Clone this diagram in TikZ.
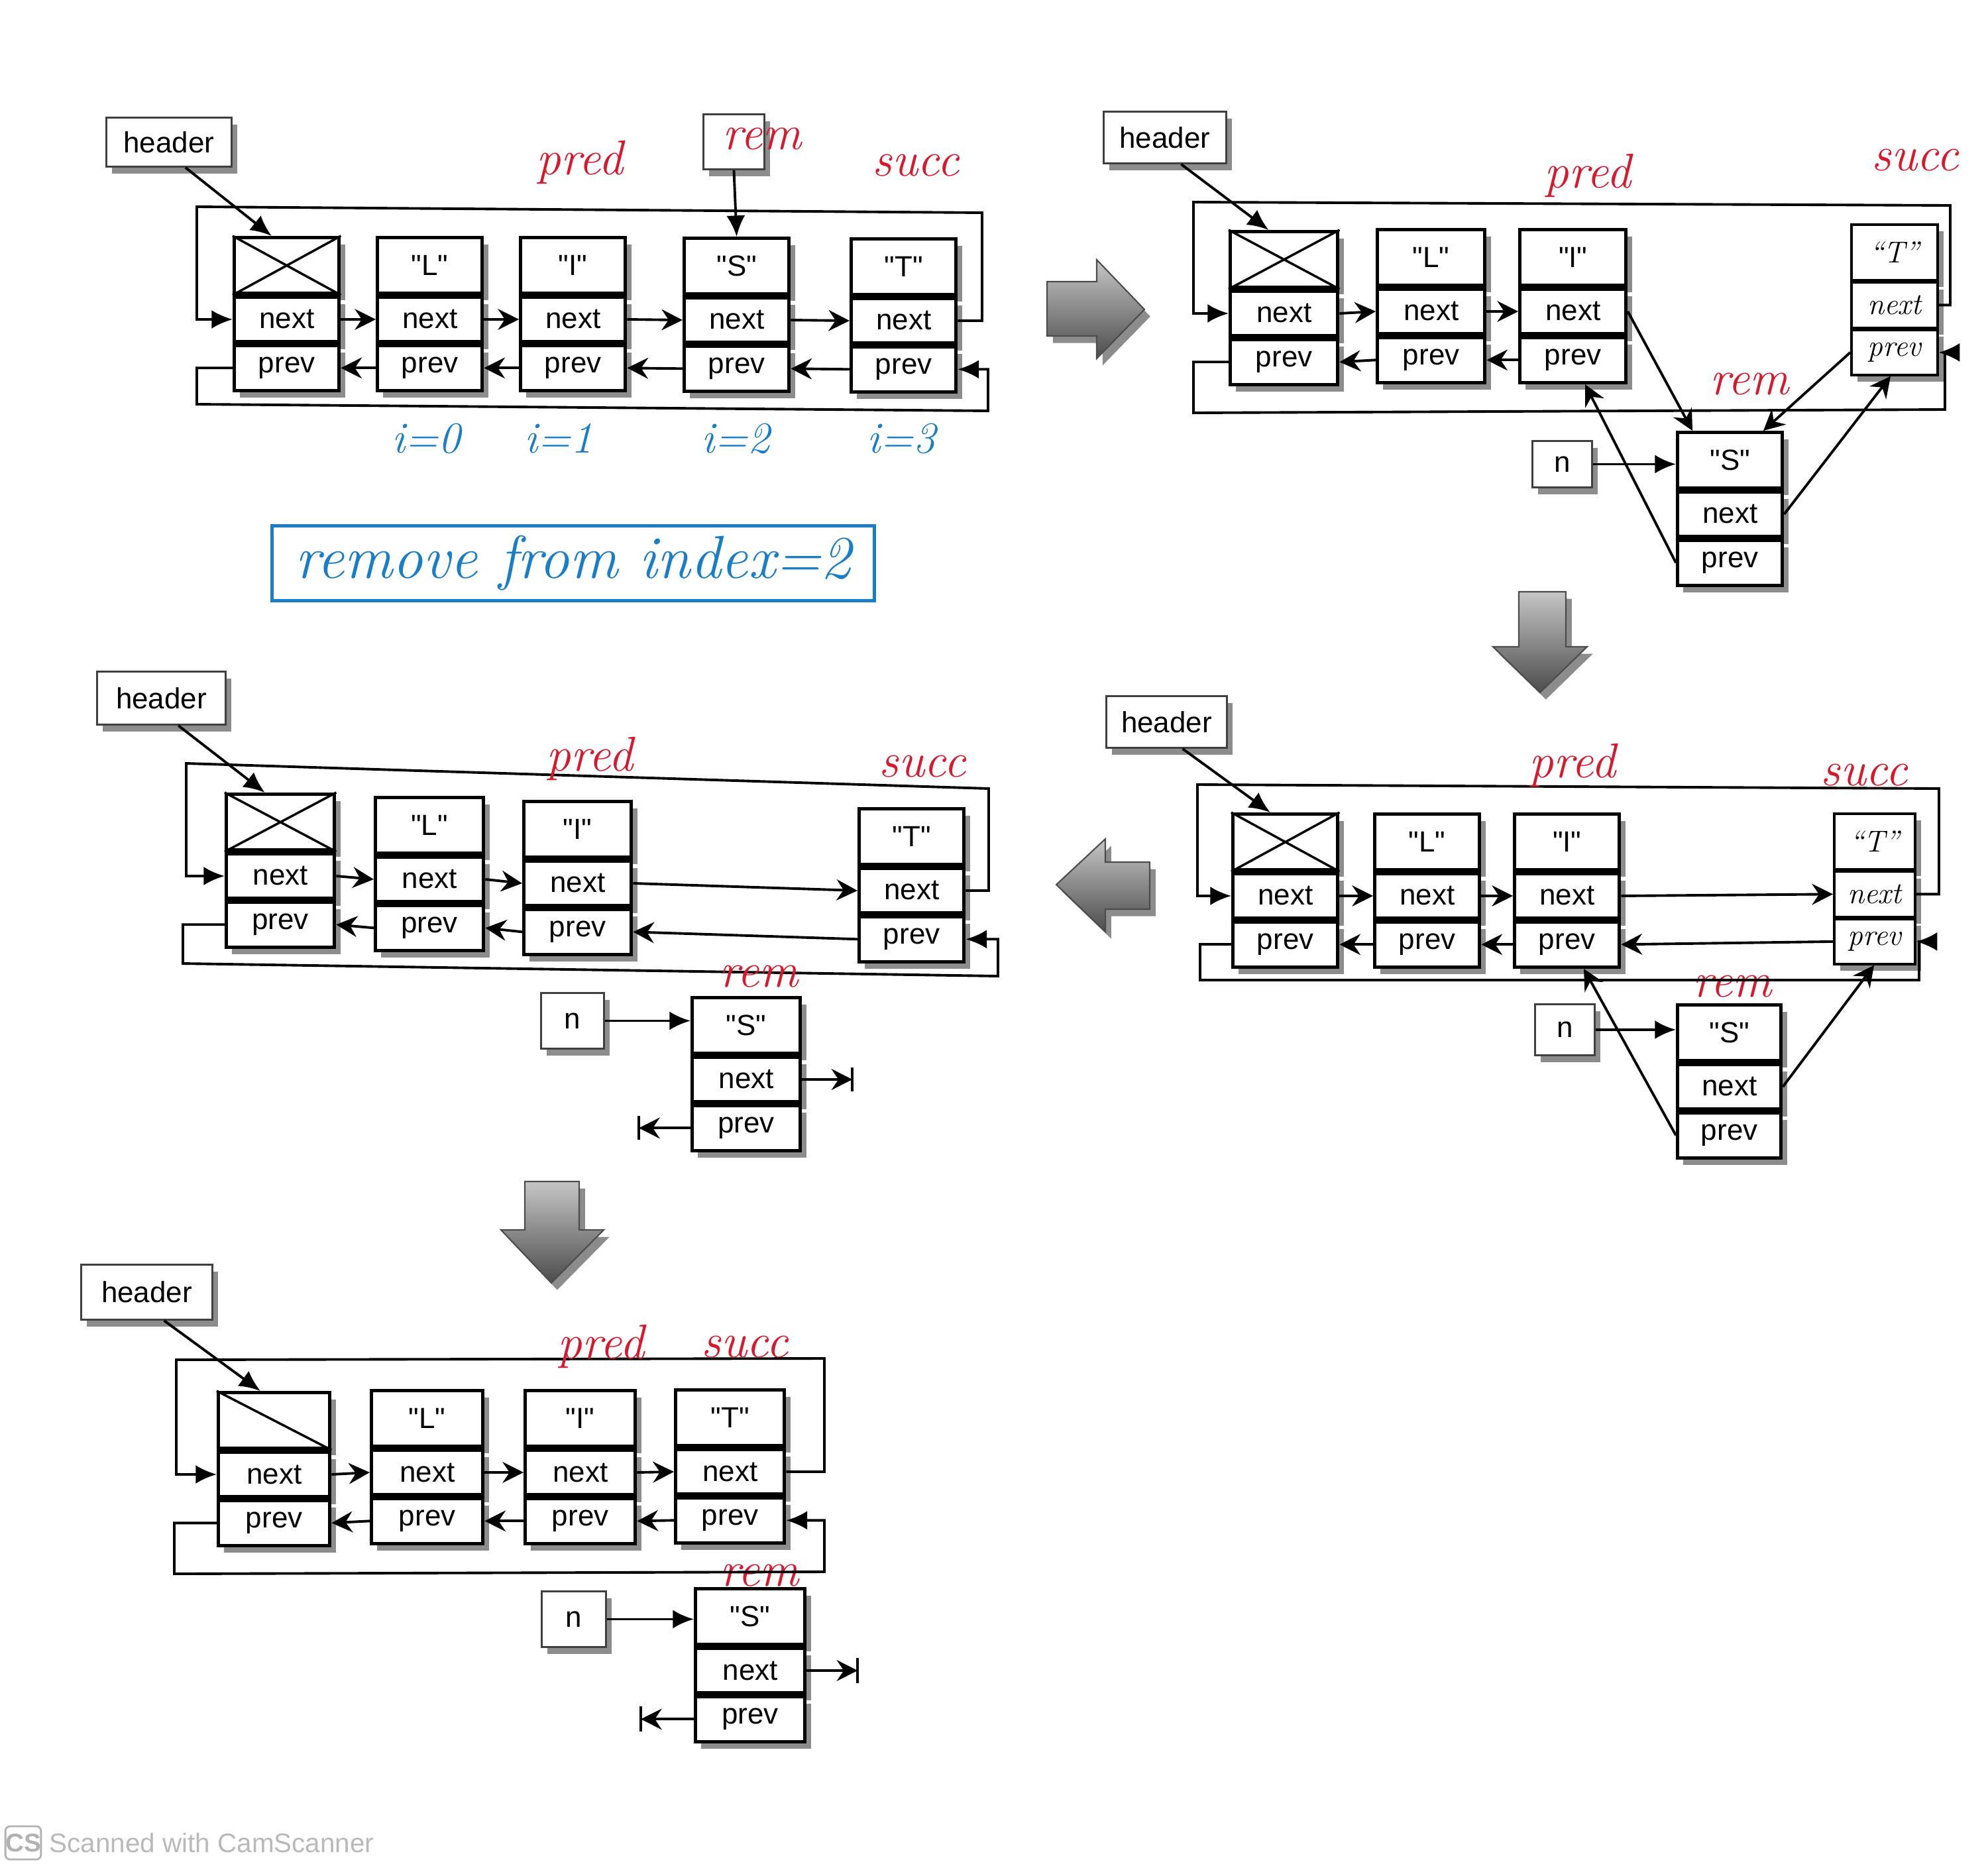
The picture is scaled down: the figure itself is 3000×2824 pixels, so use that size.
\documentclass[tikz,border=0pt]{standalone}
\usepackage{fontspec}
\setsansfont{Liberation Sans}[Ligatures=TeXOff]
\usetikzlibrary{arrows.meta,calc,shadows}
\definecolor{penred}{RGB}{215,25,45}
\definecolor{penblue}{RGB}{25,125,200}
\newcommand\cellfont{\sffamily\fontsize{12.5}{14}\selectfont}
\newcommand\handfont{\rmfamily\itshape\fontsize{13}{15}\selectfont}
\newcommand\redfont{\rmfamily\itshape\fontsize{21}{24}\selectfont}
\newcommand\bluefont{\rmfamily\itshape\fontsize{19}{22}\selectfont}
\tikzset{
 shad/.style={drop shadow={shadow xshift=2.5pt, shadow yshift=-3pt, fill=black, opacity=.45}},
 celltop/.style={draw, line width=1.5pt, fill=white, inner sep=0pt, minimum height=0.84cm, font=\cellfont, shad},
 cellrow/.style={celltop, minimum height=0.68cm},
 hcelltop/.style={celltop, line width=1pt, font=\handfont},
 hcellrow/.style={hcelltop, minimum height=0.68cm},
 tagbox/.style={draw=black!75, line width=0.8pt, fill=white, inner sep=0pt, font=\cellfont, shad, anchor=north west},
 ptr/.style={line width=1.1pt, -{Stealth[length=9pt,width=9pt,inset=3pt]}},
 fptr/.style={line width=1.1pt, -{Latex[length=9pt,width=8pt]}},
 wire/.style={line width=1.1pt},
 redlab/.style={text=penred, font=\redfont, inner sep=0pt},
 bluelab/.style={text=penblue, font=\bluefont, inner sep=0pt},
 bigarrow/.style={draw=black!70, line width=0.6pt, top color=gray!45, bottom color=black!70, shad},
}
\newcommand\lnode[5]{%
 \node[celltop, minimum width=#4, anchor=north west] (#1t) at (#2,#3) {#5};
 \node[cellrow, minimum width=#4, anchor=north] (#1n) at (#1t.south) {next};
 \node[cellrow, minimum width=#4, anchor=north] (#1p) at (#1n.south) {prev};}
\newcommand\hnode[5]{%
 \node[hcelltop, minimum width=#4, anchor=north west] (#1t) at (#2,#3) {#5};
 \node[hcellrow, minimum width=#4, anchor=north] (#1n) at (#1t.south) {next};
 \node[hcellrow, minimum width=#4, anchor=north] (#1p) at (#1n.south) {prev};}
\newcommand\xcell[1]{\draw[line width=1pt] (#1t.north west) -- (#1t.south east) (#1t.north east) -- (#1t.south west);}
\begin{document}
\begin{tikzpicture}[x=0.01cm,y=-0.01cm]
\useasboundingbox (0,0) rectangle (3000,2824);

% ---------------- panel 1 ----------------
\node[tagbox, minimum width=1.89cm, minimum height=0.74cm] (h1) at (159,176) {header};
\node[tagbox, minimum width=0.92cm, minimum height=0.83cm] (r1) at (1060,171) {};
\lnode{p1a}{351}{356}{1.58cm}{}
\lnode{p1b}{567}{356}{1.58cm}{"L"}
\lnode{p1c}{783}{356}{1.58cm}{"I"}
\lnode{p1d}{1030}{357}{1.58cm}{"S"}
\lnode{p1e}{1282}{358}{1.58cm}{"T"}
\xcell{p1a}
\draw[fptr] ($(h1.south west)!0.63!(h1.south east)$) -- ($(p1at.north west)!0.36!(p1at.north east)$);
\draw[fptr] (r1.south) -- (p1dt.north);
\foreach \A/\B in {a/b,b/c,c/d,d/e}{
 \draw[ptr] (p1\A n.east) -- (p1\B n.west);
 \draw[ptr] (p1\B p.west) -- (p1\A p.east);}
\coordinate (p1TL) at (297,312); \coordinate (p1TR) at (1482,321);
\coordinate (p1BL) at (297,610); \coordinate (p1BR) at (1491,620);
\draw[fptr] (p1en.east) -| (p1TR) -- (p1TL) |- (p1an.west);
\draw[fptr] (p1ap.west) -| (p1BL) -- (p1BR) |- (p1ep.east);
\node[redlab] (pr1) at (875,245) {pred};
\node[redlab] (su1) at (1382,250) {succ};
\node[redlab] (rm1) at (1150,210) {rem};
\node[bluelab] (i10) at (643,662) {i=0};
\node[bluelab] (i11) at (843,662) {i=1};
\node[bluelab] (i12) at (1110,662) {i=2};
\node[bluelab] (i13) at (1360,662) {i=3};
\node[draw=penblue, line width=1.3pt, minimum width=9.09cm, minimum height=1.13cm, text=penblue, font=\rmfamily\itshape\fontsize{26}{30}\selectfont] (task) at (865,850) {remove from index=2};
\path[bigarrow] (1580,425) -- (1655,425) -- (1655,392) -- (1727,467) -- (1655,541) -- (1655,507) -- (1580,507) -- cycle;

% ---------------- panel 2 ----------------
\node[tagbox, minimum width=1.85cm, minimum height=0.78cm] (h2) at (1664,167) {header};
\lnode{p2a}{1854}{347}{1.62cm}{}
\lnode{p2b}{2076}{344}{1.62cm}{"L"}
\lnode{p2c}{2291}{344}{1.60cm}{"I"}
\hnode{p2e}{2792}{337}{1.30cm}{``T''}
\node[redlab] (rm2) at (2640,580) {rem};
\lnode{p2d}{2529}{650}{1.58cm}{"S"}
\node[tagbox, minimum width=0.9cm, minimum height=0.7cm] (n2) at (2311,664) {n};
\xcell{p2a}
\draw[fptr] ($(h2.south west)!0.63!(h2.south east)$) -- ($(p2at.north west)!0.36!(p2at.north east)$);
\foreach \A/\B in {a/b,b/c}{
 \draw[ptr] (p2\A n.east) -- (p2\B n.west);
 \draw[ptr] (p2\B p.west) -- (p2\A p.east);}
\draw[fptr] (n2.east) -- (n2.east -| p2dt.west);
\draw[ptr] (p2cn.east) -- ($(p2dt.north west)+(25,0)$);
\draw[ptr] (p2ep.west) -- ($(p2dt.north west)+(132,0)$);
\draw[ptr] (p2dp.west) -- ($(p2cp.south west)+(101,0)$);
\draw[ptr] (p2dn.east) -- ($(p2ep.south west)+(61,0)$);
\coordinate (p2TL) at (1801,305); \coordinate (p2TR) at (2943,310);
\coordinate (p2BL) at (1801,623); \coordinate (p2BR) at (2935,618);
\draw[fptr] (p2en.east) -| (p2TR) -- (p2TL) |- (p2an.west);
\draw[fptr] (p2ap.west) -| (p2BL) -- (p2BR) |- (p2ep.east);
\node[redlab] (pr2) at (2396,265) {pred};
\node[redlab] (su2) at (2890,242) {succ};
\path[bigarrow] (2292,893) -- (2363,893) -- (2363,976) -- (2395,976) -- (2324,1045) -- (2253,976) -- (2292,976) -- cycle;

% ---------------- panel 4 (middle right) ----------------
\node[tagbox, minimum width=1.82cm, minimum height=0.78cm] (h4) at (1668,1049) {header};
\lnode{p4a}{1858}{1226}{1.58cm}{}
\lnode{p4b}{2072}{1226}{1.58cm}{"L"}
\lnode{p4c}{2283}{1226}{1.58cm}{"I"}
\hnode{p4e}{2766}{1226}{1.22cm}{``T''}
\node[redlab] (rm4) at (2614,1489) {rem};
\lnode{p4d}{2529}{1514}{1.56cm}{"S"}
\node[tagbox, minimum width=0.9cm, minimum height=0.77cm] (n4) at (2315,1514) {n};
\xcell{p4a}
\draw[fptr] ($(h4.south west)!0.63!(h4.south east)$) -- ($(p4at.north west)!0.36!(p4at.north east)$);
\foreach \A/\B in {a/b,b/c,c/e}{
 \draw[ptr] (p4\A n.east) -- (p4\B n.west);
 \draw[ptr] (p4\B p.west) -- (p4\A p.east);}
\draw[fptr] (n4.east) -- (n4.east -| p4dt.west);
\draw[ptr] (p4dp.west) -- ($(p4cp.south west)+(107,0)$);
\draw[ptr] (p4dn.east) -- ($(p4ep.south west)+(62,0)$);
\coordinate (p4TL) at (1807,1184); \coordinate (p4TR) at (2926,1190);
\coordinate (p4BL) at (1811,1479); \coordinate (p4BR) at (2896,1479);
\draw[fptr] (p4en.east) -| (p4TR) -- (p4TL) |- (p4an.west);
\draw[fptr] (p4ap.west) -| (p4BL) -- (p4BR) |- (p4ep.east);
\node[redlab] (pr4) at (2373,1155) {pred};
\node[redlab] (su4) at (2813,1170) {succ};
\path[bigarrow] (1735,1301) -- (1668,1301) -- (1668,1266) -- (1594,1335) -- (1668,1406) -- (1668,1372) -- (1735,1372) -- cycle;

% ---------------- panel 3 (middle left) ----------------
\node[tagbox, minimum width=1.94cm, minimum height=0.80cm] (h3) at (145,1012) {header};
\lnode{p3a}{339}{1196}{1.63cm}{}
\lnode{p3b}{564}{1201}{1.63cm}{"L"}
\lnode{p3c}{788}{1207}{1.62cm}{"I"}
\lnode{p3e}{1294}{1218}{1.58cm}{"T"}
\lnode{p3d}{1042}{1503}{1.63cm}{"S"}
\node[tagbox, minimum width=0.95cm, minimum height=0.84cm] (n3) at (815,1497) {n};
\xcell{p3a}
\draw[fptr] ($(h3.south west)!0.63!(h3.south east)$) -- ($(p3at.north west)!0.36!(p3at.north east)$);
\foreach \A/\B in {a/b,b/c,c/e}{
 \draw[ptr] (p3\A n.east) -- (p3\B n.west);
 \draw[ptr] (p3\B p.west) -- (p3\A p.east);}
\draw[fptr] (n3.east) -- (n3.east -| p3dt.west);
\coordinate (p3TL) at (281,1152); \coordinate (p3TR) at (1492,1190);
\coordinate (p3BL) at (276,1454); \coordinate (p3BR) at (1506,1473);
\draw[fptr] (p3en.east) -| (p3TR) -- (p3TL) |- (p3an.west);
\draw[fptr] (p3ap.west) -| (p3BL) -- (p3BR) |- (p3ep.east);
\coordinate (p3gn) at ($(p3dn.east)+(76,0)$);
\coordinate (p3gp) at ($(p3dp.west)+(-78,0)$);
\draw[ptr] (p3dn.east) -- (p3gn);
\draw[wire] ($(p3gn)+(0,-18)$) -- ($(p3gn)+(0,18)$);
\draw[ptr] (p3dp.west) -- (p3gp);
\draw[wire] ($(p3gp)+(0,-18)$) -- ($(p3gp)+(0,18)$);
\node[redlab] (pr3) at (890,1145) {pred};
\node[redlab] (su3) at (1392,1157) {succ};
\node[redlab] (rm3) at (1145,1474) {rem};
\path[bigarrow] (792,1783) -- (874,1783) -- (874,1856) -- (911,1856) -- (832,1936) -- (756,1856) -- (792,1856) -- cycle;

% ---------------- panel 5 (bottom) ----------------
\node[tagbox, minimum width=1.98cm, minimum height=0.83cm] (h5) at (121,1907) {header};
\lnode{p5a}{327}{2099}{1.68cm}{}
\lnode{p5b}{558}{2096}{1.68cm}{"L"}
\lnode{p5c}{790}{2096}{1.66cm}{"I"}
\lnode{p5e}{1017}{2095}{1.64cm}{"T"}
\node[redlab] (rm5) at (1146,2378) {rem};
\lnode{p5d}{1047}{2395}{1.65cm}{"S"}
\node[tagbox, minimum width=0.97cm, minimum height=0.84cm] (n5) at (816,2400) {n};
\draw[line width=1pt] (p5at.north west) -- (p5at.south east);
\draw[fptr] ($(h5.south west)!0.63!(h5.south east)$) -- ($(p5at.north west)!0.38!(p5at.north east)$);
\foreach \A/\B in {a/b,b/c,c/e}{
 \draw[ptr] (p5\A n.east) -- (p5\B n.west);
 \draw[ptr] (p5\B p.west) -- (p5\A p.east);}
\draw[fptr] (n5.east) -- (n5.east -| p5dt.west);
\coordinate (p5TL) at (266,2052); \coordinate (p5TR) at (1244,2050);
\coordinate (p5BL) at (263,2375); \coordinate (p5BR) at (1244,2372);
\draw[fptr] (p5en.east) -| (p5TR) -- (p5TL) |- (p5an.west);
\draw[fptr] (p5ap.west) -| (p5BL) -- (p5BR) |- (p5ep.east);
\coordinate (p5gn) at ($(p5dn.east)+(77,0)$);
\coordinate (p5gp) at ($(p5dp.west)+(-80,0)$);
\draw[ptr] (p5dn.east) -- (p5gn);
\draw[wire] ($(p5gn)+(0,-19)$) -- ($(p5gn)+(0,19)$);
\draw[ptr] (p5dp.west) -- (p5gp);
\draw[wire] ($(p5gp)+(0,-19)$) -- ($(p5gp)+(0,19)$);
\node[redlab] (pr5) at (907,2032) {pred};
\node[redlab] (su5) at (1124,2033) {succ};

% ---------------- watermark ----------------
\node[draw=gray!60, line width=0.8pt, rounded corners=2pt, minimum width=0.5cm, minimum height=0.5cm, inner sep=0pt, text=gray!60, font=\sffamily\bfseries\fontsize{11}{12}\selectfont] (cs) at (35,2781) {CS};
\node[anchor=west, text=gray!55, font=\sffamily\fontsize{11.5}{13}\selectfont] (cst) at (62,2781) {Scanned with CamScanner};
\end{tikzpicture}
\end{document}
